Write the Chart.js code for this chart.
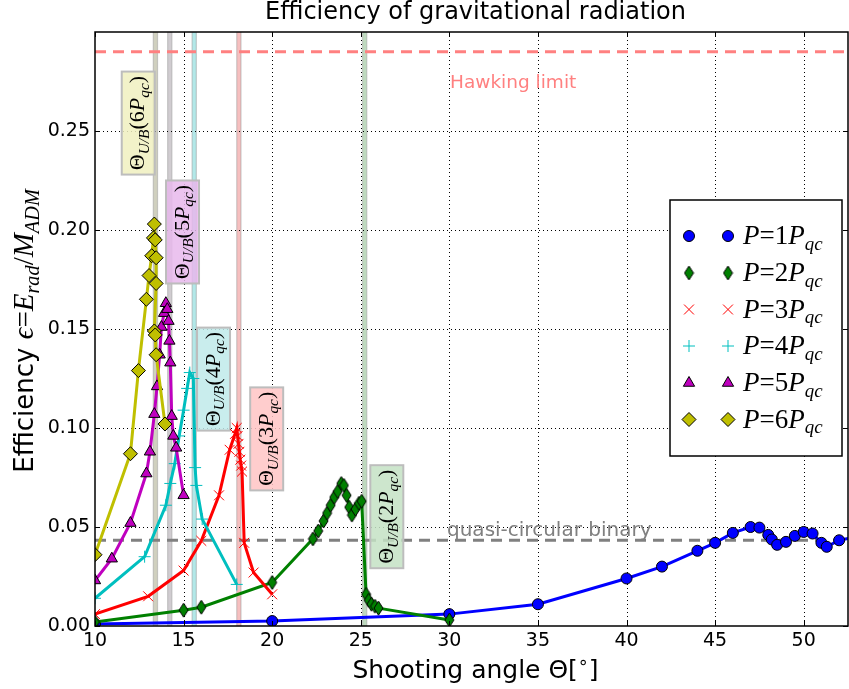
<!DOCTYPE html>
<html><head><meta charset="utf-8">
<script src="https://cdn.jsdelivr.net/npm/chart.js@4.4.0/dist/chart.umd.min.js"></script>
<style>html,body{margin:0;padding:0;background:#fff;overflow:hidden}canvas{display:block}</style>
</head><body>
<canvas id="c" width="849" height="689"></canvas>
<script>
// ---------------- data ----------------
const theta1 = [10, 20, 30, 35, 40, 42, 44, 45, 46, 47, 47.5, 48, 48.2, 48.5, 49, 49.5, 50, 50.5, 51, 51.3, 52, 53];
const eff1   = [0.001, 0.0025, 0.006, 0.011, 0.024, 0.030, 0.038, 0.042, 0.047, 0.050, 0.0497, 0.046, 0.0437, 0.041, 0.0425, 0.0455, 0.0475, 0.0467, 0.042, 0.040, 0.0433, 0.045];

const theta2 = [10, 15, 16, 20, 22.3, 22.6, 22.9, 23.1, 23.3, 23.5, 23.7, 23.9, 24.05, 24.2, 24.35, 24.5, 24.7, 24.9, 25.05, 25.3, 25.45, 25.6, 25.8, 26.0, 30];
const eff2   = [0.002, 0.008, 0.0095, 0.022, 0.044, 0.048, 0.053, 0.057, 0.061, 0.065, 0.068, 0.072, 0.071, 0.066, 0.060, 0.056, 0.059, 0.062, 0.063, 0.016, 0.013, 0.011, 0.010, 0.009, 0.003];

const theta3 = [10, 13, 15, 16, 17, 17.6, 17.9, 18.0, 18.05, 18.1, 18.15, 18.2, 18.25, 18.3, 18.42, 18.95, 20];
const eff3   = [0.006, 0.015, 0.028, 0.043, 0.066, 0.089, 0.097, 0.100, 0.096, 0.092, 0.088, 0.084, 0.081, 0.078, 0.042, 0.027, 0.016];

const theta4 = [10, 12.8, 14.0, 14.25, 14.5, 14.75, 15.0, 15.2, 15.35, 15.55, 15.65, 15.72, 16.05, 18.0];
const eff4   = [0.014, 0.035, 0.061, 0.072, 0.082, 0.096, 0.109, 0.120, 0.128, 0.125, 0.080, 0.071, 0.054, 0.021];

const theta5 = [10, 10.95, 12.0, 12.9, 13.1, 13.35, 13.5, 13.65, 13.75, 13.9, 14.0, 14.08, 14.15, 14.2, 14.25, 14.33, 14.42, 14.58, 15.0];
const eff5   = [0.023, 0.034, 0.052, 0.077, 0.088, 0.107, 0.121, 0.137, 0.151, 0.158, 0.163, 0.160, 0.154, 0.144, 0.133, 0.106, 0.096, 0.090, 0.066];

const theta6 = [10, 12.0, 12.45, 12.9, 13.05, 13.2, 13.3, 13.35, 13.4, 13.45, 13.45, 13.35, 13.4, 13.45, 13.95];
const eff6   = [0.036, 0.087, 0.129, 0.165, 0.177, 0.187, 0.196, 0.203, 0.195, 0.186, 0.173, 0.149, 0.147, 0.137, 0.102];

const seriesNames = ['1', '2', '3', '4', '5', '6'];
const xTicks = [10, 15, 20, 25, 30, 35, 40, 45, 50];
const yTicks = [0.00, 0.05, 0.10, 0.15, 0.20, 0.25];

const hawkingLimit = 0.29;
const quasiCircular = 0.0433;
const bandAngles = [13.41, 14.22, 15.6, 18.12, 25.22];       // Theta_U/B for 6P,5P,4P,3P,2P
const bandLabels = ['6', '5', '4', '3', '2'];
const bandLabelX = [12.44, 14.94, 16.69, 19.69, 26.47];
const bandLabelY = [0.254, 0.199, 0.1247, 0.0945, 0.0552];

// ---------------- styles ----------------
const colors = ['#0000ff', '#008000', '#ff0000', '#00bfbf', '#bf00bf', '#bfbf00'];
const bandFill = ['rgba(200,200,180,0.85)', 'rgba(200,195,200,0.85)', 'rgba(165,228,228,0.85)', 'rgba(245,180,180,0.85)', 'rgba(180,212,180,0.85)'];
const boxFill = ['#f0f0c0', '#e8b8ec', '#bfeaea', '#ffc4c4', '#c4e2c4'];

function thinDiamond(fill, w, h) {
  const c = document.createElement('canvas');
  c.width = w + 2; c.height = h + 2;
  const g = c.getContext('2d');
  g.beginPath();
  g.moveTo(c.width / 2, 1); g.lineTo(c.width - 1, c.height / 2);
  g.lineTo(c.width / 2, c.height - 1); g.lineTo(1, c.height / 2); g.closePath();
  g.fillStyle = fill; g.fill();
  g.lineWidth = 1; g.strokeStyle = '#000'; g.stroke();
  return c;
}
const greenDiamond = thinDiamond('#008000', 9, 14);

const markerStyles = [
  {pointStyle: 'circle', radius: 5.5, bg: colors[0], border: '#000', bw: 1},
  {pointStyle: greenDiamond, radius: 7, bg: colors[1], border: '#000', bw: 1},
  {pointStyle: 'crossRot', radius: 7, bg: colors[2], border: colors[2], bw: 1},
  {pointStyle: 'cross', radius: 6, bg: colors[3], border: colors[3], bw: 1},
  {pointStyle: 'triangle', radius: 6.5, bg: colors[4], border: '#000', bw: 1},
  {pointStyle: 'rectRot', radius: 7, bg: colors[5], border: '#000', bw: 1}
];

const xs = [theta1, theta2, theta3, theta4, theta5, theta6];
const ys = [eff1, eff2, eff3, eff4, eff5, eff6];

const datasets = xs.map((tx, i) => ({
  label: 'P=' + seriesNames[i] + 'Pqc',
  data: tx.map((t, j) => ({x: t, y: ys[i][j]})),
  showLine: true,
  borderColor: colors[i],
  borderWidth: 3,
  pointStyle: markerStyles[i].pointStyle,
  pointRadius: markerStyles[i].radius,
  pointBackgroundColor: markerStyles[i].bg,
  pointBorderColor: markerStyles[i].border,
  pointBorderWidth: markerStyles[i].bw,
  order: 6 - i,
  tension: 0
}));

// ---------------- rich text ----------------
const SERIF = '"Liberation Serif", serif';
const SANS = '"DejaVu Sans", sans-serif';
function fontFor(s, size) {
  const sz = (s.sub || s.sup) ? size * 0.7 : size;
  return (s.it ? 'italic ' : '') + sz.toFixed(1) + 'px ' + (s.sans ? SANS : SERIF);
}
function richWidth(ctx, segs, size) {
  let w = 0;
  for (const s of segs) { ctx.font = fontFor(s, s.size || size); w += ctx.measureText(s.t).width; }
  return w;
}
function drawRich(ctx, segs, x, y, size, align, color) {
  const w = richWidth(ctx, segs, size);
  let cx = align === 'center' ? x - w / 2 : (align === 'right' ? x - w : x);
  ctx.textAlign = 'left'; ctx.textBaseline = 'alphabetic';
  ctx.fillStyle = color || '#000';
  for (const s of segs) {
    const sz = s.size || size;
    ctx.font = fontFor(s, sz);
    const dy = s.sub ? sz * 0.22 : (s.sup ? -sz * 0.42 : 0);
    ctx.fillText(s.t, cx, y + dy);
    cx += ctx.measureText(s.t).width;
  }
}

const plugin = {
  id: 'deco',
  beforeDatasetsDraw(chart) {
    const {ctx, chartArea: a, scales: {x, y}} = chart;
    ctx.save();
    ctx.beginPath(); ctx.rect(a.left, a.top, a.right - a.left, a.bottom - a.top); ctx.clip();
    // bands
    bandAngles.forEach((t, i) => {
      const x0 = x.getPixelForValue(t - 0.12), x1 = x.getPixelForValue(t + 0.12);
      ctx.fillStyle = bandFill[i];
      ctx.fillRect(x0, a.top, x1 - x0, a.bottom - a.top);
      ctx.strokeStyle = 'rgba(160,160,160,0.5)'; ctx.lineWidth = 1.2;
      ctx.strokeRect(x0, a.top - 2, x1 - x0, a.bottom - a.top + 4);
    });
    // grid (dotted)
    ctx.strokeStyle = '#000'; ctx.lineWidth = 1; ctx.setLineDash([1, 3]);
    xTicks.forEach(t => {
      if (t <= 10) return;
      const px = Math.round(x.getPixelForValue(t)) + 0.5;
      ctx.beginPath(); ctx.moveTo(px, a.top); ctx.lineTo(px, a.bottom); ctx.stroke();
    });
    yTicks.forEach(t => {
      if (t <= 0) return;
      const py = Math.round(y.getPixelForValue(t)) + 0.5;
      ctx.beginPath(); ctx.moveTo(a.left, py); ctx.lineTo(a.right, py); ctx.stroke();
    });
    // horizontal reference lines
    ctx.setLineDash([11, 7]); ctx.lineWidth = 3;
    ctx.strokeStyle = '#ff8080';
    let py = y.getPixelForValue(hawkingLimit);
    ctx.beginPath(); ctx.moveTo(a.left, py); ctx.lineTo(a.right, py); ctx.stroke();
    ctx.strokeStyle = '#808080';
    py = y.getPixelForValue(quasiCircular);
    ctx.beginPath(); ctx.moveTo(a.left, py); ctx.lineTo(a.right, py); ctx.stroke();
    ctx.setLineDash([]);
    // texts
    ctx.font = '18.5px ' + SANS; ctx.fillStyle = '#ff8080'; ctx.textAlign = 'left'; ctx.textBaseline = 'alphabetic';
    ctx.fillText('Hawking limit', 450, y.getPixelForValue(hawkingLimit) + 36);
    ctx.font = '20px ' + SANS; ctx.fillStyle = '#808080';
    ctx.fillText('quasi-circular binary', 447, y.getPixelForValue(quasiCircular) - 4);
    // band label boxes
    bandLabels.forEach((n, i) => {
      const cx = x.getPixelForValue(bandLabelX[i]), cy = y.getPixelForValue(bandLabelY[i]);
      ctx.save();
      ctx.translate(cx, cy); ctx.rotate(-Math.PI / 2);
      const bw = 103, bh = 33;
      ctx.globalAlpha = 0.85;
      ctx.fillStyle = boxFill[i]; ctx.fillRect(-bw / 2, -bh / 2, bw, bh);
      ctx.globalAlpha = 1;
      ctx.strokeStyle = '#bdbdbd'; ctx.lineWidth = 2; ctx.strokeRect(-bw / 2, -bh / 2, bw, bh);
      const segs = [{t: 'Θ'}, {t: 'U/B', it: 1, sub: 1}, {t: '('}, {t: n}, {t: 'P', it: 1}, {t: 'qc', it: 1, sub: 1}, {t: ')'}];
      drawRich(ctx, segs, 0, 6, 22, 'center', '#000');
      ctx.restore();
    });
    ctx.restore();
  },
  afterDatasetsDraw(chart) {
    const {ctx, chartArea: a, scales: {x, y}} = chart;
    ctx.save();
    // inward ticks
    ctx.strokeStyle = '#000'; ctx.lineWidth = 1;
    xTicks.forEach(t => {
      const px = Math.round(x.getPixelForValue(t)) + 0.5;
      ctx.beginPath(); ctx.moveTo(px, a.bottom); ctx.lineTo(px, a.bottom - 5);
      ctx.moveTo(px, a.top); ctx.lineTo(px, a.top + 5); ctx.stroke();
    });
    yTicks.forEach(t => {
      const py = Math.round(y.getPixelForValue(t)) + 0.5;
      ctx.beginPath(); ctx.moveTo(a.left, py); ctx.lineTo(a.left + 5, py);
      ctx.moveTo(a.right, py); ctx.lineTo(a.right - 5, py); ctx.stroke();
    });
    // frame
    ctx.lineWidth = 1.5;
    ctx.strokeRect(a.left, a.top, a.right - a.left, a.bottom - a.top);
    // legend
    const lx = 670, ly = 200, lw = 172, lh = 256;
    ctx.fillStyle = '#fff'; ctx.fillRect(lx, ly, lw, lh);
    ctx.lineWidth = 1.5; ctx.strokeStyle = '#000'; ctx.strokeRect(lx, ly, lw, lh);
    const rowY = [236, 273, 309.5, 346, 383, 419.5];
    datasets.forEach((d, i) => {
      const m = markerStyles[i];
      [689, 728].forEach(mx => {
        ctx.save();
        ctx.fillStyle = m.bg; ctx.strokeStyle = m.border; ctx.lineWidth = m.bw;
        Chart.helpers.drawPoint(ctx, {
          pointStyle: m.pointStyle, radius: m.radius, rotation: 0, borderWidth: m.bw
        }, mx, rowY[i]);
        ctx.restore();
      });
      const segs = [{t: 'P', it: 1}, {t: '='}, {t: seriesNames[i]}, {t: 'P', it: 1}, {t: 'qc', it: 1, sub: 1}];
      drawRich(ctx, segs, 743, rowY[i] + 8, 27, 'left', '#000');
    });
    ctx.restore();
  },
  afterDraw(chart) {
    const {ctx, chartArea: a} = chart;
    ctx.save();
    ctx.fillStyle = '#000'; ctx.textAlign = 'center'; ctx.textBaseline = 'alphabetic';
    ctx.font = '24px ' + SANS;
    ctx.fillText('Efficiency of gravitational radiation', (a.left + a.right) / 2 + 4, 19);
    // x title
    drawRich(ctx, [{t: 'Shooting angle ', sans: 1}, {t: 'Θ[', sans: 1}, {t: '∘', sans: 1, sup: 1}, {t: ']', sans: 1}],
      (a.left + a.right) / 2 + 4, 678, 25, 'center', '#000');
    // y title
    ctx.translate(33, (a.top + a.bottom) / 2 + 2);
    ctx.rotate(-Math.PI / 2);
    drawRich(ctx, [{t: 'Efficiency ', sans: 1}, {t: 'ϵ', it: 1, size: 29}, {t: '=', size: 29}, {t: 'E', it: 1, size: 29}, {t: 'rad', it: 1, sub: 1, size: 29},
      {t: '/', size: 29}, {t: 'M', it: 1, size: 29}, {t: 'ADM', it: 1, sub: 1, size: 29}], 0, 0, 26, 'center', '#000');
    ctx.restore();
  }
};

new Chart(document.getElementById('c'), {
  type: 'scatter',
  data: {datasets},
  options: {
    responsive: false,
    animation: false,
    layout: {autoPadding: false, padding: {top: 32, right: 1, left: 0, bottom: 0}},
    plugins: {legend: {display: false}, title: {display: false}, tooltip: {enabled: false}},
    scales: {
      x: {
        type: 'linear', min: 10, max: 52.5,
        afterBuildTicks: s => { s.ticks = xTicks.map(v => ({value: v})); },
        afterFit: s => { s.height = 63; s.paddingLeft = 0; s.paddingRight = 0; },
        grid: {display: false, drawTicks: false},
        border: {display: false},
        ticks: {font: {family: 'DejaVu Sans', size: 19}, color: '#000', padding: 4, maxRotation: 0, autoSkip: false,
          callback: v => String(v)}
      },
      y: {
        type: 'linear', min: 0, max: 0.30,
        afterBuildTicks: s => { s.ticks = yTicks.map(v => ({value: v})); },
        afterFit: s => { s.width = 95; s.paddingTop = 0; s.paddingBottom = 0; },
        grid: {display: false, drawTicks: false},
        border: {display: false},
        ticks: {font: {family: 'DejaVu Sans', size: 19}, color: '#000', padding: 5, autoSkip: false,
          callback: v => v.toFixed(2)}
      }
    }
  },
  plugins: [plugin]
});
</script>
</body></html>
